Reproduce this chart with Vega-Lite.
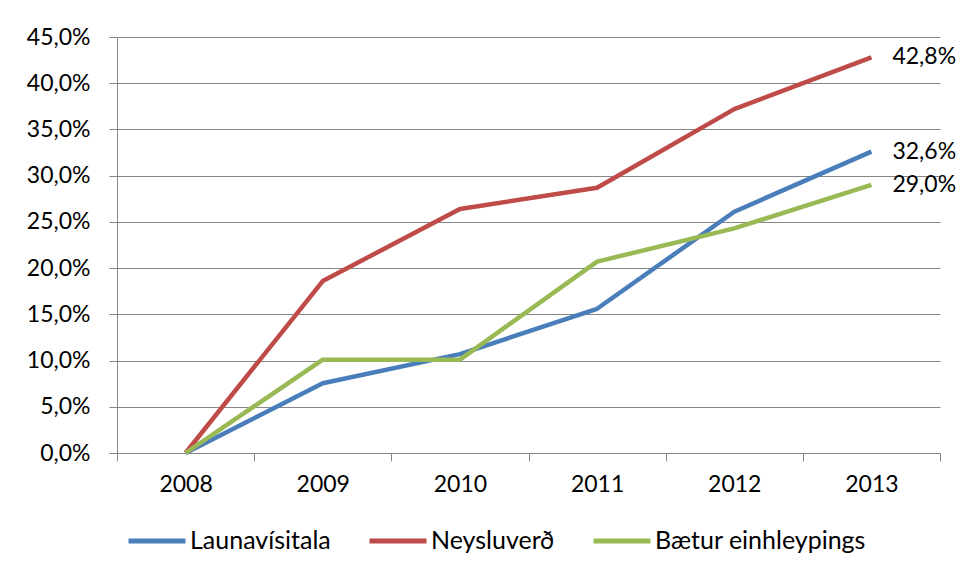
{
  "$schema": "https://vega.github.io/schema/vega-lite/v6.json",
  "width": 823,
  "height": 416,
  "autosize": "none",
  "padding": {"left": 117, "top": 37, "right": 24, "bottom": 128},
  "background": "white",
  "data": {
    "values": [
      {"year": 2008, "series": "Launavísitala", "value": 0.0},
      {"year": 2009, "series": "Launavísitala", "value": 0.0755},
      {"year": 2010, "series": "Launavísitala", "value": 0.107},
      {"year": 2011, "series": "Launavísitala", "value": 0.156},
      {"year": 2012, "series": "Launavísitala", "value": 0.261},
      {"year": 2013, "series": "Launavísitala", "value": 0.326},
      {"year": 2008, "series": "Neysluverð", "value": 0.0},
      {"year": 2009, "series": "Neysluverð", "value": 0.186},
      {"year": 2010, "series": "Neysluverð", "value": 0.264},
      {"year": 2011, "series": "Neysluverð", "value": 0.287},
      {"year": 2012, "series": "Neysluverð", "value": 0.372},
      {"year": 2013, "series": "Neysluverð", "value": 0.428},
      {"year": 2008, "series": "Bætur einhleypings", "value": 0.0},
      {"year": 2009, "series": "Bætur einhleypings", "value": 0.101},
      {"year": 2010, "series": "Bætur einhleypings", "value": 0.101},
      {"year": 2011, "series": "Bætur einhleypings", "value": 0.207},
      {"year": 2012, "series": "Bætur einhleypings", "value": 0.243},
      {"year": 2013, "series": "Bætur einhleypings", "value": 0.29}
    ]
  },
  "layer": [
    {
      "mark": {"type": "line", "strokeWidth": 4.5, "strokeJoin": "round"},
      "encoding": {
        "x": {
          "field": "year", "type": "quantitative",
          "scale": {"domain": [2007.5, 2013.5], "nice": false, "zero": false},
          "axis": {
            "orient": "bottom",
            "values": [2007.5, 2008.5, 2009.5, 2010.5, 2011.5, 2012.5, 2013.5],
            "labels": false, "ticks": true, "tickSize": 8, "tickColor": "#868686",
            "domain": true, "domainColor": "#868686", "grid": false, "title": null
          }
        },
        "y": {
          "field": "value", "type": "quantitative",
          "scale": {"domain": [0, 0.45], "nice": false},
          "axis": {
            "values": [0, 0.05, 0.1, 0.15, 0.2, 0.25, 0.3, 0.35, 0.4, 0.45],
            "format": ".1%", "title": null,
            "tickSize": 8, "tickColor": "#868686", "domainColor": "#868686",
            "gridColor": "#868686", "labelPadding": 19
          }
        },
        "color": {
          "field": "series", "type": "nominal",
          "scale": {
            "domain": ["Launavísitala", "Neysluverð", "Bætur einhleypings"],
            "range": ["#4a7ebb", "#be4b48", "#98b954"]
          },
          "legend": {
            "title": null, "orient": "none", "direction": "horizontal",
            "legendX": 9, "legendY": 473,
            "symbolType": "stroke", "symbolSize": 3249, "symbolStrokeWidth": 5,
            "labelOffset": 2, "columnPadding": 28, "labelFontSize": 25, "labelLimit": 400,
            "labelColor": "#000000", "labelFont": "Lato"
          }
        },
        "order": {"field": "year", "type": "quantitative"}
      }
    },
    {
      "transform": [{"filter": "datum.year == 2013"}],
      "mark": {"type": "text", "align": "left", "baseline": "middle", "dx": 21, "fontSize": 23, "font": "Lato", "color": "#000000"},
      "encoding": {
        "x": {
          "field": "year", "type": "quantitative",
          "scale": {"domain": [2007.5, 2013.5], "nice": false, "zero": false},
          "axis": {
            "orient": "bottom",
            "values": [2008, 2009, 2010, 2011, 2012, 2013],
            "format": "d", "ticks": false, "tickSize": 0, "domain": false,
            "grid": false, "title": null, "labelPadding": 20
          }
        },
        "y": {
          "field": "value", "type": "quantitative",
          "scale": {"domain": [0, 0.45], "nice": false},
          "axis": {
            "values": [0, 0.05, 0.1, 0.15, 0.2, 0.25, 0.3, 0.35, 0.4, 0.45],
            "format": ".1%", "title": null,
            "tickSize": 8, "tickColor": "#868686", "domainColor": "#868686",
            "gridColor": "#868686", "labelPadding": 19
          }
        },
        "text": {"field": "value", "type": "quantitative", "format": ".1%"}
      }
    }
  ],
  "resolve": {"axis": {"x": "independent"}},
  "config": {
    "locale": {"number": {"decimal": ",", "thousands": ".", "grouping": [3], "currency": ["", " kr"]}},
    "view": {"stroke": null},
    "axis": {"labelFont": "Lato", "labelFontSize": 23, "labelColor": "#000000", "gridWidth": 1, "domainWidth": 1, "tickWidth": 1}
  }
}
